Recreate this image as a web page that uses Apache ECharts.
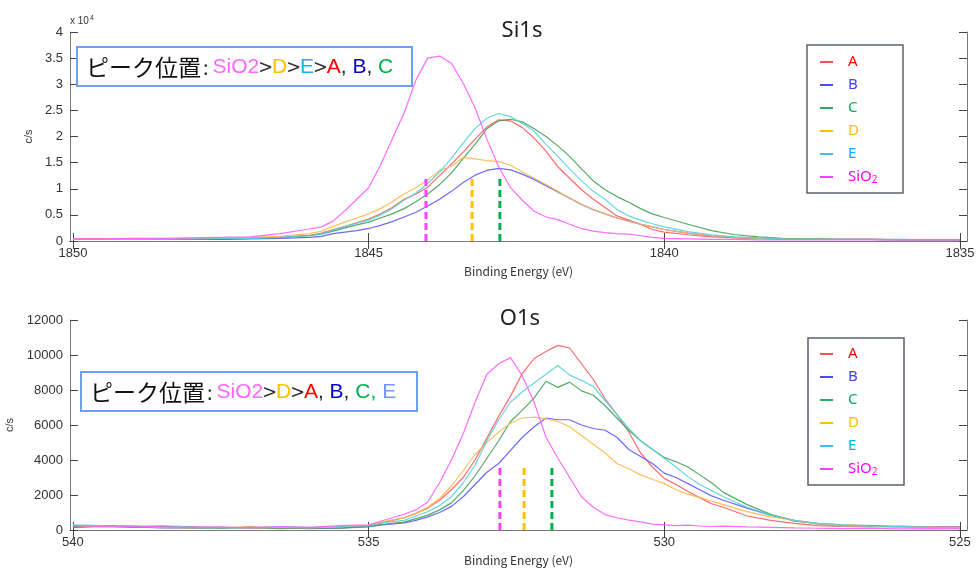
<!DOCTYPE html>
<html><head><meta charset="utf-8">
<script src="https://cdn.jsdelivr.net/npm/echarts@6/dist/echarts.min.js"></script>
<style>html,body{margin:0;padding:0;background:#fff}#c{width:979px;height:570px}</style>
</head><body><div id="c"></div>
<script>
// ---------- Si1s (values in units of 10^4 c/s) ----------
const siEnergy = [1850,1849.5,1849,1848.5,1848,1847.5,1847,1846.5,1846,1845.8,1845.6,1845.4,1845.2,1845.0,1844.8,1844.6,1844.4,1844.2,1844.0,1843.8,1843.6,1843.4,1843.2,1843.0,1842.8,1842.6,1842.4,1842.2,1842.0,1841.8,1841.6,1841.4,1841.2,1841.0,1840.8,1840.6,1840.4,1840.2,1840.0,1839.6,1839.2,1838.8,1838.4,1838,1837.5,1837,1836.5,1836,1835.5,1835];
const siA    = [0.03,0.03,0.03,0.03,0.04,0.04,0.05,0.07,0.11,0.15,0.22,0.28,0.35,0.42,0.52,0.64,0.80,0.90,1.03,1.25,1.47,1.70,1.95,2.18,2.32,2.30,2.17,1.97,1.72,1.42,1.20,0.98,0.80,0.64,0.48,0.40,0.32,0.22,0.17,0.12,0.08,0.06,0.05,0.04,0.03,0.03,0.03,0.02,0.02,0.02];
const siB    = [0.03,0.03,0.03,0.03,0.03,0.03,0.04,0.05,0.07,0.09,0.14,0.17,0.20,0.24,0.30,0.37,0.46,0.55,0.67,0.80,0.95,1.12,1.26,1.35,1.39,1.36,1.28,1.18,1.06,0.94,0.82,0.70,0.60,0.52,0.44,0.38,0.32,0.27,0.22,0.15,0.10,0.07,0.05,0.04,0.03,0.03,0.03,0.02,0.02,0.02];
const siC    = [0.03,0.03,0.03,0.03,0.04,0.04,0.05,0.07,0.10,0.13,0.19,0.25,0.31,0.36,0.44,0.52,0.62,0.75,0.90,1.08,1.30,1.58,1.85,2.15,2.30,2.33,2.28,2.15,2.00,1.82,1.62,1.38,1.15,0.98,0.85,0.74,0.62,0.52,0.45,0.32,0.20,0.12,0.08,0.05,0.04,0.03,0.03,0.03,0.02,0.02];
const siD    = [0.04,0.04,0.04,0.04,0.05,0.05,0.07,0.09,0.14,0.19,0.28,0.36,0.44,0.52,0.62,0.75,0.90,1.02,1.17,1.35,1.43,1.60,1.57,1.54,1.52,1.45,1.32,1.20,1.08,0.95,0.82,0.70,0.60,0.52,0.44,0.38,0.32,0.27,0.22,0.15,0.10,0.07,0.05,0.04,0.03,0.03,0.03,0.02,0.02,0.02];
const siE    = [0.03,0.03,0.03,0.04,0.04,0.05,0.05,0.07,0.10,0.14,0.21,0.28,0.34,0.40,0.50,0.62,0.78,0.92,1.10,1.32,1.58,1.88,2.15,2.35,2.44,2.38,2.25,2.10,1.85,1.62,1.38,1.15,0.95,0.80,0.60,0.48,0.40,0.33,0.27,0.18,0.12,0.08,0.06,0.04,0.03,0.03,0.03,0.02,0.02,0.02];
const siSiO2 = [0.04,0.04,0.05,0.05,0.06,0.07,0.08,0.14,0.23,0.27,0.38,0.58,0.80,1.02,1.45,1.95,2.45,3.08,3.50,3.54,3.40,3.02,2.55,1.95,1.42,1.02,0.78,0.57,0.46,0.41,0.32,0.24,0.19,0.16,0.14,0.13,0.10,0.07,0.05,0.04,0.03,0.03,0.02,0.02,0.02,0.02,0.02,0.02,0.02,0.02];
const siPeakMarks = [1844.03, 1843.25, 1842.78];   // SiO2, D, C
const siPeakMarkTop = 1.2;
const siXTicks = [1850, 1845, 1840, 1835];

// ---------- O1s (c/s) ----------
const oEnergy = [540,539.5,539,538.5,538,537.5,537,536.5,536,535.5,535,534.8,534.6,534.4,534.2,534.0,533.8,533.6,533.4,533.2,533.0,532.8,532.6,532.4,532.2,532.0,531.8,531.6,531.4,531.2,531.0,530.8,530.6,530.4,530.2,530.0,529.8,529.6,529.4,529.2,529.0,528.6,528.2,527.8,527.4,527,526.5,526,525.5,525];
const oA    = [200,250,220,150,200,130,180,120,100,150,250,380,550,700,950,1250,1700,2300,3000,4000,5250,6500,7650,8950,9800,10200,10550,10400,9500,8600,7500,6600,5600,4400,3600,2950,2600,2200,1850,1500,1300,800,550,380,250,200,180,220,150,180];
const oB    = [150,200,180,120,100,150,100,120,80,100,200,280,350,400,550,750,1000,1350,1900,2600,3300,3800,4550,5300,5900,6400,6300,6300,6000,5800,5700,5300,4600,4200,3800,3250,3000,2650,2300,1950,1700,1250,850,550,350,250,220,180,200,150];
const oC    = [180,220,150,200,120,100,150,80,120,100,180,300,380,450,650,850,1150,1550,2250,3100,4100,5100,6200,6850,7550,8500,8150,8450,7950,7700,7100,6400,5700,5100,4600,4150,3900,3600,3150,2700,2150,1450,900,500,380,300,250,180,150,120];
const oD    = [250,180,200,150,120,180,100,150,120,180,280,450,580,700,950,1300,1800,2500,3400,4300,5000,5600,6100,6400,6450,6350,6200,5900,5400,4900,4400,3800,3500,3150,2900,2650,2300,2050,1850,1650,1450,1050,750,550,350,250,200,150,180,120];
const oE    = [300,250,200,250,180,150,120,200,150,200,250,400,480,550,800,1050,1400,1900,2700,3700,5100,6300,7300,7900,8400,8900,9400,8850,8550,8200,7400,6600,5800,5100,4600,4100,3600,3050,2600,2250,1900,1300,850,550,380,280,220,200,150,130];
const oSiO2 = [250,200,230,180,150,170,120,200,150,250,300,500,700,900,1150,1600,2700,4000,5500,7300,8900,9500,9850,8800,7300,5300,4100,3000,1900,1300,880,700,560,460,340,290,250,280,230,200,220,180,150,120,100,80,100,60,80,60];
const oPeakMarks = [532.78, 532.37, 531.90];   // SiO2, D, C
const oPeakMarkTop = 3700;
const oXTicks = [540, 535, 530, 525];

const seriesNames = ['A','B','C','D','E','SiO2'];
const lineColors  = ['#ff5a5a','#5a5aff','#44a058','#ffb850','#58d0dc','#ff5cff'];
const iconColors  = ['#ff5050','#4a4aff','#2eaa60','#ffc000','#40c0f0','#ff40ff'];
const textColors  = ['#ff0000','#4040ff','#00b050','#ffc000','#00b0f0','#ff00ff'];
const markColors  = ['#ff40ff','#ffc000','#00b050'];

const siData = [siA, siB, siC, siD, siE, siSiO2];
const oData  = [oA, oB, oC, oD, oE, oSiO2];

const chart = echarts.init(document.getElementById('c'));
const axisGray = '#7a7a7a';
const labelFont = {fontFamily: 'Liberation Sans, Arial, sans-serif', fontSize: 13, color: '#333'};
const plain = v => String(v);

function xAxes(gridIndex, min, max, ticks) {
  return [
    {gridIndex, type:'value', min, max, inverse:true, position:'bottom',
     name:'Binding Energy (eV)', nameLocation:'middle', nameGap:24,
     nameTextStyle:{fontFamily:'Noto Sans CJK JP, sans-serif', fontSize:12, color:'#333'},
     axisLine:{lineStyle:{color:axisGray, width:1}},
     axisTick:{inside:true, length:8, customValues:ticks, lineStyle:{color:'#444'}},
     axisLabel:Object.assign({customValues:ticks, margin:6, formatter:plain}, labelFont),
     splitLine:{show:false}},
    {gridIndex, type:'value', min, max, inverse:true, position:'top',
     axisLine:{lineStyle:{color:axisGray, width:1}},
     axisTick:{inside:true, length:8, customValues:ticks, lineStyle:{color:'#444'}},
     axisLabel:{show:false}, splitLine:{show:false}}
  ];
}
function yAxes(gridIndex, max, interval) {
  return [
    {gridIndex, type:'value', min:0, max, interval, position:'left',
     name:'c/s', nameLocation:'middle', nameGap:35, nameRotate:90,
     nameTextStyle:{fontFamily:'Liberation Sans, Arial, sans-serif', fontSize:11, color:'#333'},
     axisLine:{show:true, lineStyle:{color:axisGray}},
     axisTick:{show:true, inside:true, length:8, lineStyle:{color:'#444'}},
     axisLabel:Object.assign({margin:7, formatter:plain}, labelFont),
     splitLine:{show:false}},
    {gridIndex, type:'value', min:0, max, interval, position:'right',
     axisLine:{show:true, lineStyle:{color:axisGray}},
     axisTick:{show:true, inside:true, length:8, lineStyle:{color:'#444'}},
     axisLabel:{show:false}, splitLine:{show:false}}
  ];
}

const series = [];
function addCurves(energy, data, xi, yi) {
  data.forEach((vals, k) => {
    series.push({
      type:'line', name:seriesNames[k], xAxisIndex:xi, yAxisIndex:yi,
      data: energy.map((e, i) => [e, vals[i]]),
      showSymbol:false, symbol:'none', smooth:false, animation:false,
      color: lineColors[k],
      lineStyle:{color:lineColors[k], width:1.2, opacity:0.9},
      z: 2
    });
  });
}
function addMarks(marks, top, xi, yi) {
  marks.forEach((e, k) => {
    series.push({
      type:'line', name:'mark' + xi + '_' + k, xAxisIndex:xi, yAxisIndex:yi,
      data:[[e, 0], [e, top]], showSymbol:false, symbol:'none', animation:false, silent:true,
      lineStyle:{color:markColors[k], width:3, type:[7,4]}, z:3
    });
  });
}
addCurves(siEnergy, siData, 0, 0);
addMarks(siPeakMarks, siPeakMarkTop, 0, 0);
addCurves(oEnergy, oData, 2, 2);
addMarks(oPeakMarks, oPeakMarkTop, 2, 2);

function legendCfg(top) {
  return {
    orient:'vertical', left:820, top:top, itemGap:7, itemWidth:13, itemHeight:2,
    icon:'rect', selectedMode:false, padding:0, z:120,
    textStyle:{fontFamily:'Noto Sans, sans-serif', fontSize:15, lineHeight:16, padding:[0,0,0,10],
      rich:{m:{fontFamily:'Noto Sans, sans-serif', fontSize:15, color:'#ff00ff'},
            s:{fontFamily:'Noto Sans, sans-serif', fontSize:10, color:'#ff00ff', verticalAlign:'bottom', padding:[8,0,0,0]}}},
    formatter: n => n === 'SiO2' ? '{m|SiO}{s|2}' : n,
    data: seriesNames.map((n, k) => ({name:n, itemStyle:{color:iconColors[k]}, textStyle:{color:textColors[k]}}))
  };
}

function boxText(parts, x, y) {
  const L = 'Liberation Sans, Arial';
  return {type:'text', x, y, z:101,
    style:{text: parts.map(p => '{' + p[0] + '|' + p[1] + '}').join(''), verticalAlign:'middle',
      rich:{
        j:{fontFamily:'Noto Sans CJK JP', fontSize:23, fill:'#111'},
        p:{fontFamily:'Noto Sans CJK JP', fontSize:20, fill:'#333', padding:[0,4,0,2]},
        g:{fontFamily:'Noto Sans CJK JP', fontSize:23, fill:'#333'},
        k:{fontFamily:L, fontSize:21, fill:'#222'},
        s:{fontFamily:L, fontSize:21, fill:'#ff66ff'},
        d:{fontFamily:L, fontSize:21, fill:'#ffc000'},
        e:{fontFamily:L, fontSize:21, fill:'#19b4f0'},
        a:{fontFamily:L, fontSize:21, fill:'#ff0000'},
        b:{fontFamily:L, fontSize:21, fill:'#0000cc'},
        c:{fontFamily:L, fontSize:21, fill:'#00b050'},
        cc:{fontFamily:L, fontSize:21, fill:'#00b050'},
        f:{fontFamily:L, fontSize:21, fill:'#6f98ff'}
      }}};
}

const option = {
  animation:false,
  backgroundColor:'#fff',
  grid:[
    {left:70, top:32, width:897, height:209, containLabel:false, outerBoundsMode:'none'},
    {left:70, top:320, width:897, height:210, containLabel:false, outerBoundsMode:'none'}
  ],
  xAxis:[...xAxes(0, 1834.88, 1850.05, siXTicks), ...xAxes(1, 524.88, 540.05, oXTicks)],
  yAxis:[...yAxes(0, 4, 0.5), ...yAxes(1, 12000, 2000)],
  legend:[legendCfg(54), legendCfg(346)],
  series,
  graphic:[
    {type:'text', x:522, y:31, z:100, style:{text:'Si1s', align:'center', verticalAlign:'middle',
      font:'22px "Noto Sans", sans-serif', fill:'#222', backgroundColor:'#fff', padding:[0,6]}},
    {type:'text', x:520, y:319, z:100, style:{text:'O1s', align:'center', verticalAlign:'middle',
      font:'22px "Noto Sans", sans-serif', fill:'#222', backgroundColor:'#fff', padding:[0,6]}},
    {type:'text', x:70, y:21, z:100, style:{text:'{a|x 10}{b|4}', verticalAlign:'middle',
      rich:{a:{fontFamily:'Liberation Sans, Arial', fontSize:10, fill:'#333'},
            b:{fontFamily:'Liberation Sans, Arial', fontSize:7, fill:'#333', verticalAlign:'top', padding:[0,0,6,1]}}}},
    {type:'rect', shape:{x:807, y:45, width:96, height:148}, z:90,
      style:{fill:'#fff', stroke:'#586070', lineWidth:1.5}},
    {type:'rect', shape:{x:808, y:338, width:96, height:147}, z:90,
      style:{fill:'#fff', stroke:'#586070', lineWidth:1.5}},
    {type:'rect', shape:{x:77, y:47, width:335, height:39}, z:100,
      style:{fill:'#fff', stroke:'#6f9ff5', lineWidth:2}},
    boxText([['j','ピーク位置'],['p',':'],['s','SiO2'],['g','>'],['d','D'],['g','>'],['e','E'],['g','>'],['a','A'],['k',', '],['b','B'],['k',', '],['c','C']], 86, 67),
    {type:'rect', shape:{x:81, y:372, width:336, height:39}, z:100,
      style:{fill:'#fff', stroke:'#6f9ff5', lineWidth:2}},
    boxText([['j','ピーク位置'],['p',':'],['s','SiO2'],['g','>'],['d','D'],['g','>'],['a','A'],['k',', '],['b','B'],['k',', '],['c','C'],['cc',', '],['f','E']], 90, 392)
  ]
};
chart.setOption(option);
</script></body></html>
